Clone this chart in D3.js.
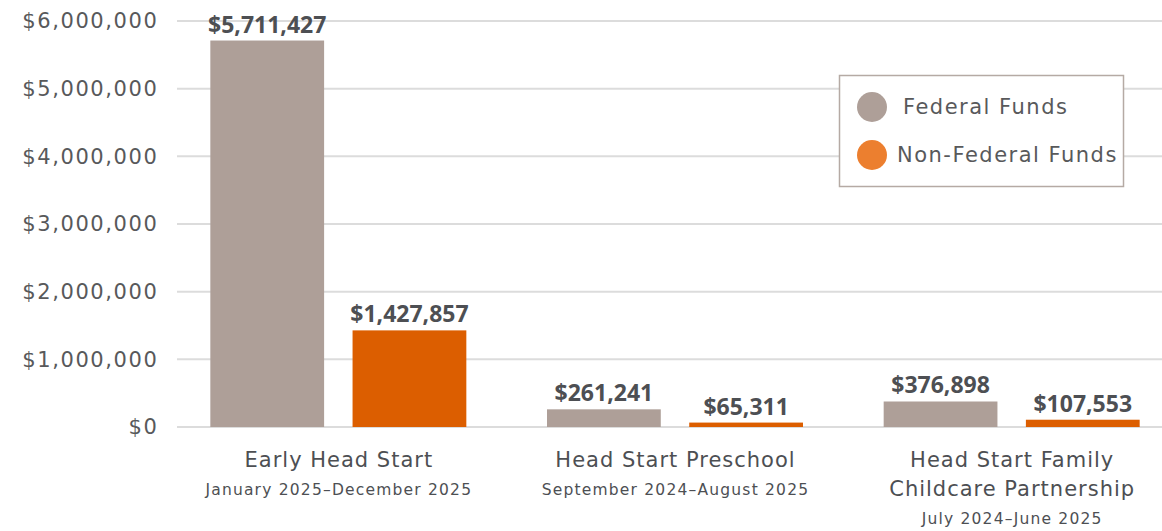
<!DOCTYPE html>
<html>
<head>
<meta charset="utf-8">
<script src="https://cdn.jsdelivr.net/npm/d3@7"></script>
<style>
  body { margin: 0; background: #fff; }
  text { font-family: "DejaVu Sans", sans-serif; }
  text.val { font-family: "Open Sans", sans-serif; }
</style>
</head>
<body>
<svg width="1162" height="531"></svg>
<script>
// data
const programs = ["Early Head Start", "Head Start Preschool", "Head Start Family Childcare Partnership"];
const programLines = [["Early Head Start"], ["Head Start Preschool"], ["Head Start Family", "Childcare Partnership"]];
const periods = ["January 2025\u2013December 2025", "September 2024\u2013August 2025", "July 2024\u2013June 2025"];
const series = ["Federal Funds", "Non-Federal Funds"];
const federal = [5711427, 261241, 376898];
const nonFederal = [1427857, 65311, 107553];
const yTicks = [0, 1000000, 2000000, 3000000, 4000000, 5000000, 6000000];

const barColors = ["#ae9f98", "#dc5e00"];
const legendColors = ["#ae9f98", "#ec7f2f"];

function main() {
  var svg = d3.select("svg"),
    width = +svg.attr("width");

  var y = d3.scaleLinear().domain([0, 6000000]).range([427, 21]);
  var x0 = d3.scaleBand().domain(programs).range([170, 1180]);

  // gridlines + y labels
  var fmt = d3.format("$,");
  var yAxis = svg.append("g");
  yAxis.selectAll("line")
    .data(yTicks)
    .enter()
    .append("line")
    .attr("x1", 177)
    .attr("x2", width)
    .attr("y1", (d) => y(d))
    .attr("y2", (d) => y(d))
    .attr("stroke", "#dcdcdc")
    .attr("stroke-width", 2);
  yAxis.selectAll("text")
    .data(yTicks)
    .enter()
    .append("text")
    .attr("x", 158.5)
    .attr("y", (d) => y(d))
    .attr("dy", "0.35em")
    .attr("text-anchor", "end")
    .attr("font-size", 21)
    .attr("letter-spacing", 1.6)
    .attr("fill", "#58595b")
    .text((d) => fmt(d));

  var rows = programs.map((p, i) => ({ program: p, values: [federal[i], nonFederal[i]] }));

  var groups = svg.selectAll(".grp")
    .data(rows)
    .enter()
    .append("g")
    .attr("class", "grp");

  groups.each(function (row) {
    var cx = x0(row.program) + x0.bandwidth() / 2;
    var x1 = d3.scaleBand().domain(series).range([cx - 128, cx + 128]).paddingInner(0.2);
    var g = d3.select(this);
    var items = series.map((s, j) => ({ s: s, v: row.values[j], j: j }));
    g.selectAll("rect")
      .data(items)
      .enter()
      .append("rect")
      .attr("x", (d) => x1(d.s))
      .attr("width", x1.bandwidth())
      .attr("y", (d) => y(d.v))
      .attr("height", (d) => y(0) - y(d.v))
      .attr("fill", (d) => barColors[d.j]);
    g.selectAll(".val")
      .data(items)
      .enter()
      .append("text")
      .attr("class", "val")
      .attr("x", (d) => x1(d.s) + x1.bandwidth() / 2)
      .attr("y", (d) => y(d.v) - 8)
      .attr("text-anchor", "middle")
      .attr("font-size", 23)
      .attr("font-weight", "bold")
      .attr("fill", "#4d4f53")
      .text((d) => fmt(d.v));
  });

  // category labels
  programs.forEach((p, i) => {
    var cx = x0(p) + x0.bandwidth() / 2;
    var lines = programLines[i];
    lines.forEach((l, k) => {
      svg.append("text")
        .attr("x", cx + 0.5)
        .attr("y", 467 + k * 29)
        .attr("text-anchor", "middle")
        .attr("font-size", 21)
        .attr("letter-spacing", 1)
        .attr("fill", "#4d4f53")
        .text(l);
    });
    svg.append("text")
      .attr("x", cx + 0.5)
      .attr("y", 467 + lines.length * 29 - 1)
      .attr("text-anchor", "middle")
      .attr("font-size", 15.5)
      .attr("letter-spacing", 1.2)
      .attr("fill", "#4d4f53")
      .text(periods[i]);
  });

  // legend
  var lg = svg.append("g");
  lg.append("rect")
    .attr("x", 839.5)
    .attr("y", 75.5)
    .attr("width", 284)
    .attr("height", 111)
    .attr("fill", "#fff")
    .attr("stroke", "#b5aaa4")
    .attr("stroke-width", 1.5);
  series.forEach((s, i) => {
    lg.append("circle")
      .attr("cx", 872)
      .attr("cy", 107 + i * 48)
      .attr("r", 15)
      .attr("fill", legendColors[i]);
    lg.append("text")
      .attr("x", i == 0 ? 903 : 897)
      .attr("y", 107 + i * 48)
      .attr("dy", "0.35em")
      .attr("font-size", 21)
      .attr("letter-spacing", 1.5)
      .attr("fill", "#58595b")
      .text(s);
  });
}

main();
</script>
</body>
</html>
